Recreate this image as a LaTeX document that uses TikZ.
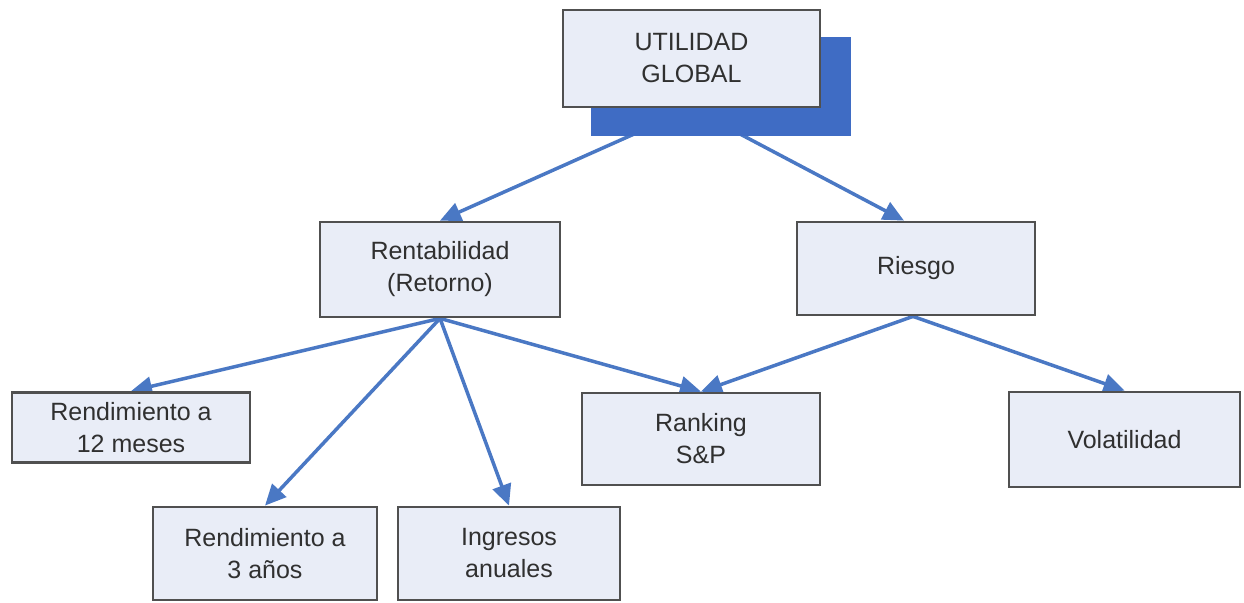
\documentclass[tikz,border=0pt]{standalone}
\usepackage{fontspec}
\setmainfont{Liberation Sans}
\usetikzlibrary{arrows.meta,calc}
\definecolor{boxfill}{HTML}{E9EDF7}
\definecolor{boxline}{HTML}{505050}
\definecolor{linkblue}{HTML}{4A78C4}
\definecolor{shadowblue}{HTML}{3F6CC4}
\definecolor{txt}{HTML}{303030}
\pgfdeclarelayer{edges}
\pgfdeclarelayer{shadowlayer}
\pgfsetlayers{edges,shadowlayer,main}
\tikzset{
  box/.style={draw=boxline, line width=2.8pt, fill=boxfill, text=txt,
    font=\fontsize{25}{32}\selectfont, align=center, inner sep=0pt},
  link/.style={draw=linkblue, line width=3.5pt, -{Triangle[length=21pt,width=19pt]}}
}
\begin{document}
\begin{tikzpicture}[x=1pt,y=-1pt]
\useasboundingbox (0,0) rectangle (1244,602);
\node[box, minimum width=257pt, minimum height=97pt] (top) at (691.5,58.5) {UTILIDAD\\GLOBAL};
\node[box, minimum width=240pt, minimum height=95pt] (rent) at (440,269.5) {Rentabilidad\\(Retorno)};
\node[box, minimum width=238pt, minimum height=93pt] (ries) at (916,268.5) {Riesgo};
\node[box, minimum width=238pt, minimum height=70pt] (r12) at (131,427.5) {Rendimiento a\\12 meses};
\node[box, minimum width=238pt, minimum height=92pt] (rank) at (701,439) {Ranking\\S\&P};
\node[box, minimum width=231pt, minimum height=95pt] (vol) at (1124.5,439.5) {Volatilidad};
\node[box, minimum width=224pt, minimum height=93pt] (r3) at (265,553.5) {Rendimiento a\\3 años};
\node[box, minimum width=222pt, minimum height=93pt] (ing) at (509,553.5) {Ingresos\\anuales};
\begin{pgfonlayer}{shadowlayer}
\fill[shadowblue] ($(top.south west)+(29,28)$) rectangle ($(top.north east)+(30,28)$);
\end{pgfonlayer}
\begin{pgfonlayer}{edges}
\draw[link] (top.south) -- (rent.north);
\draw[link] (top.south) -- ([xshift=-12pt]ries.north);
\draw[link] (rent.south) -- (r12.north);
\draw[link] (rent.south) -- (r3.north);
\draw[link] (rent.south) -- (ing.north);
\draw[link] (rent.south) -- (rank.north);
\draw[link] ([xshift=-3pt]ries.south) -- (rank.north);
\draw[link] ([xshift=-3pt]ries.south) -- (vol.north);
\end{pgfonlayer}
\end{tikzpicture}
\end{document}
